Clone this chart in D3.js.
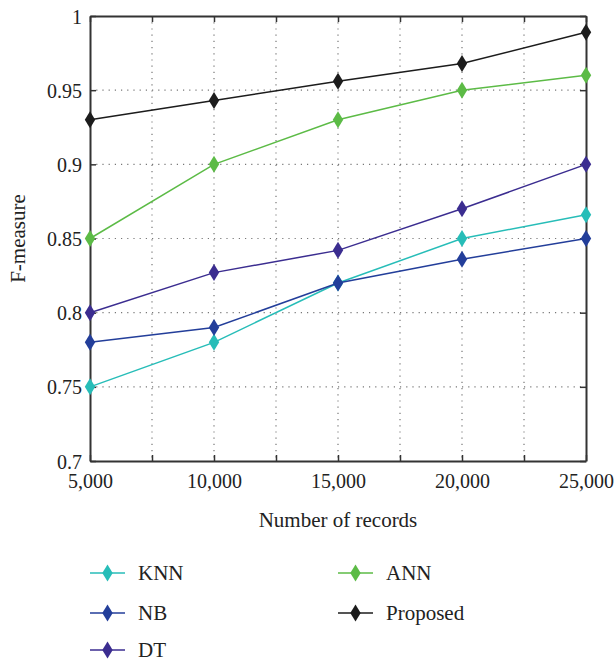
<!DOCTYPE html>
<html>
<head>
<meta charset="utf-8">
<script src="https://cdn.jsdelivr.net/npm/d3@7"></script>
<style>
  body { margin: 0; background: #fff; }
  text { font-family: "Liberation Serif", "Times New Roman", serif; fill: #222; }
</style>
</head>
<body>
<div id="chart"></div>
<script>
// chart data
var records = [5000, 10000, 15000, 20000, 25000];
var knn = [0.75, 0.78, 0.82, 0.85, 0.866];
var nb = [0.78, 0.79, 0.82, 0.836, 0.85];
var dt = [0.80, 0.827, 0.842, 0.87, 0.90];
var ann = [0.85, 0.90, 0.93, 0.95, 0.96];
var proposed = [0.93, 0.943, 0.956, 0.968, 0.989];
var seriesNames = ["KNN", "NB", "DT", "ANN", "Proposed"];
var yTicks = [0.7, 0.75, 0.8, 0.85, 0.9, 0.95, 1];
var xTicks = [5000, 7500, 10000, 12500, 15000, 17500, 20000, 22500, 25000];

var colors = ["#27bdb8", "#233e9a", "#3b2d90", "#5cbb46", "#1c1c1c"];
var allSeries = [knn, nb, dt, ann, proposed];

var W = 615, H = 661;
var margin = {top: 16, right: 29, bottom: 200, left: 90};
var width = W - margin.left - margin.right;
var height = H - margin.top - margin.bottom;
var tickfont = "20px", titlefont = "21px";

var svg = d3.select("#chart").append("svg")
    .attr("width", W).attr("height", H);

var g = svg.append("g").attr("transform", "translate(" + margin.left + "," + margin.top + ")");

var x = d3.scaleLinear().domain([5000, 25000]).range([0, width]);
var y = d3.scaleLinear().domain([0.7, 1]).range([height, 0]);

// grid (dotted)
g.append("g").selectAll("line")
    .data(xTicks.slice(1, -1))
    .enter().append("line")
        .attr("x1", function(d) { return x(d); }).attr("x2", function(d) { return x(d); })
        .attr("y1", 0).attr("y2", height)
        .attr("stroke", "#777").attr("stroke-width", 1.2)
        .attr("stroke-dasharray", "1.2,5");
g.append("g").selectAll("line")
    .data(yTicks.slice(1, -1))
    .enter().append("line")
        .attr("y1", function(d) { return y(d); }).attr("y2", function(d) { return y(d); })
        .attr("x1", 0).attr("x2", width)
        .attr("stroke", "#777").attr("stroke-width", 1.2)
        .attr("stroke-dasharray", "1.2,5");

// axes with inward ticks
var fmt = d3.format(",");
var xAxis = g.append("g")
    .attr("transform", "translate(0," + height + ")")
    .call(d3.axisBottom(x).tickValues(xTicks).tickSizeInner(-6).tickSizeOuter(0)
        .tickFormat(function(d) { return d % 5000 === 0 ? fmt(d) : ""; }));
xAxis.selectAll("text").style("font-size", tickfont).attr("dy", "0").attr("y", 27);

var yAxis = g.append("g")
    .call(d3.axisLeft(y).tickValues(yTicks).tickSizeInner(-6).tickSizeOuter(0)
        .tickFormat(function(d) { return String(+d.toFixed(2)); }));
yAxis.selectAll("text").style("font-size", tickfont).attr("x", -8).attr("dy", "0.35em");

g.append("g")
    .call(d3.axisTop(x).tickValues(xTicks).tickSizeInner(-6).tickSizeOuter(0).tickFormat(""));
g.append("g")
    .attr("transform", "translate(" + width + ",0)")
    .call(d3.axisRight(y).tickValues(yTicks).tickSizeInner(-6).tickSizeOuter(0).tickFormat(""));

svg.selectAll(".domain").attr("stroke", "#333").attr("stroke-width", 2);
svg.selectAll(".tick line").attr("stroke", "#333").attr("stroke-width", 1.5);
svg.selectAll(".tick text").style("font-family", "'Liberation Serif', serif").attr("fill", "#222");

// diamond marker path
var diamond = "M0,-8.5L5.2,0L0,8.5L-5.2,0Z";

var line = d3.line()
    .x(function(d, i) { return x(records[i]); })
    .y(function(d) { return y(d); });

allSeries.forEach(function(vals, k) {
    g.append("path")
        .datum(vals)
        .attr("fill", "none")
        .attr("stroke", colors[k])
        .attr("stroke-width", 1.5)
        .attr("d", line);
    g.selectAll(".m" + k)
        .data(vals)
        .enter().append("path")
            .attr("d", diamond)
            .attr("fill", colors[k])
            .attr("transform", function(d, i) { return "translate(" + x(records[i]) + "," + y(d) + ")"; });
});

// axis titles
svg.append("text")
    .attr("x", margin.left + width / 2).attr("y", 527)
    .attr("text-anchor", "middle").style("font-size", titlefont)
    .text("Number of records");
svg.append("text")
    .attr("transform", "translate(25," + (margin.top + height / 2) + ") rotate(-90)")
    .attr("text-anchor", "middle").style("font-size", titlefont)
    .text("F-measure");

// legend
var legPos = [[90, 573], [90, 613], [90, 650], [338, 573], [338, 613]];
seriesNames.forEach(function(name, k) {
    var lg = svg.append("g").attr("transform", "translate(" + legPos[k][0] + "," + legPos[k][1] + ")");
    lg.append("line").attr("x1", 0).attr("x2", 35).attr("y1", 0).attr("y2", 0)
        .attr("stroke", colors[k]).attr("stroke-width", 1.5);
    lg.append("path").attr("d", diamond).attr("fill", colors[k])
        .attr("transform", "translate(17.5,0)");
    lg.append("text").attr("x", 48).attr("y", 0).attr("dy", "0.35em")
        .style("font-size", titlefont).text(name);
});
</script>
</body>
</html>
